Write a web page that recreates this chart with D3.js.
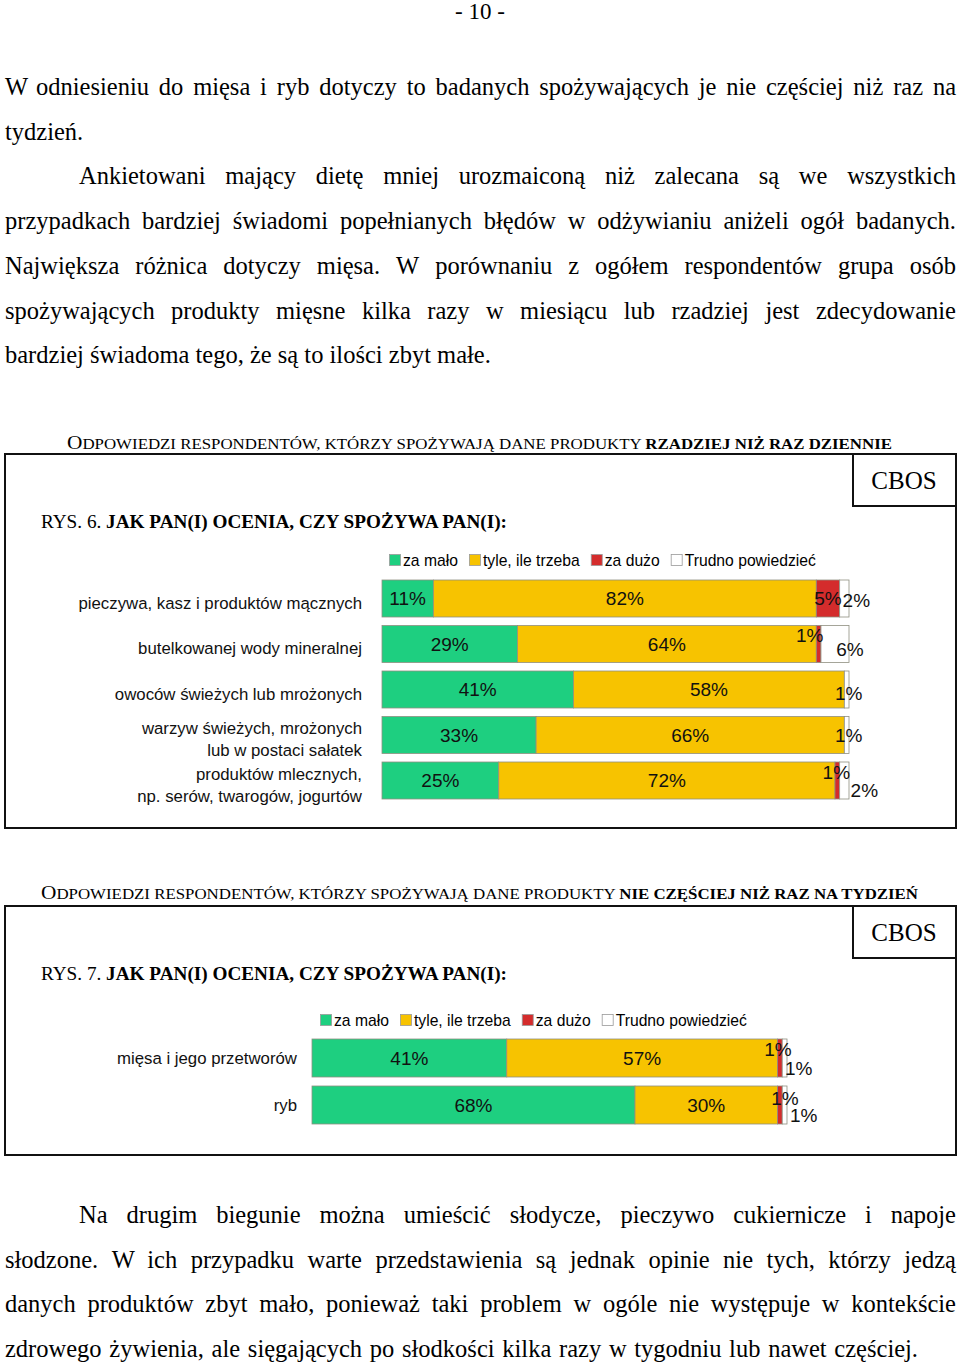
<!DOCTYPE html>
<html>
<head>
<meta charset="utf-8">
<script src="https://cdn.jsdelivr.net/npm/d3@7"></script>
<style>
  body { margin: 0; background: #fff; }
  svg { display: block; }
</style>
</head>
<body>
<script>
// ---- data ----
const seriesNames = ["za mało", "tyle, ile trzeba", "za dużo", "Trudno powiedzieć"];
const seriesColors = ["#1ecf80", "#f7c300", "#d42c2c", "#ffffff"];

const categories6 = [
  ["pieczywa, kasz i produktów mącznych"],
  ["butelkowanej wody mineralnej"],
  ["owoców świeżych lub mrożonych"],
  ["warzyw świeżych, mrożonych", "lub w postaci sałatek"],
  ["produktów mlecznych,", "np. serów, twarogów, jogurtów"]
];
const zaMalo6 = [11, 29, 41, 33, 25];
const tyle6 = [82, 64, 58, 66, 72];
const zaDuzo6 = [5, 1, 0, 0, 1];
const trudno6 = [2, 6, 1, 1, 2];

const categories7 = [["mięsa i jego przetworów"], ["ryb"]];
const zaMalo7 = [41, 68];
const tyle7 = [57, 30];
const zaDuzo7 = [1, 1];
const trudno7 = [1, 1];

const pageNumber = "- 10 -";
const textTop = [
  "W odniesieniu do mięsa i ryb dotyczy to badanych spożywających je nie częściej niż raz na",
  "tydzień.",
  "Ankietowani mający dietę mniej urozmaiconą niż zalecana są we wszystkich",
  "przypadkach bardziej świadomi popełnianych błędów w odżywianiu aniżeli ogół badanych.",
  "Największa różnica dotyczy mięsa. W porównaniu z ogółem respondentów grupa osób",
  "spożywających produkty mięsne kilka razy w miesiącu lub rzadziej jest zdecydowanie",
  "bardziej świadoma tego, że są to ilości zbyt małe."
];
const textBottom = [
  "Na drugim biegunie można umieścić słodycze, pieczywo cukiernicze i napoje",
  "słodzone. W ich przypadku warte przedstawienia są jednak opinie nie tych, którzy jedzą",
  "danych produktów zbyt mało, ponieważ taki problem w ogóle nie występuje w kontekście",
  "zdrowego żywienia, ale sięgających po słodkości kilka razy w tygodniu lub nawet częściej."
];

// ---- page ----
const W = 960, H = 1363;
const serif = "'Liberation Serif', 'Times New Roman', serif";
const sans = "'Liberation Sans', Arial, sans-serif";
const bodySize = 24.5;

const svg = d3.select("body").append("svg")
  .attr("width", W).attr("height", H);

svg.append("text")
  .attr("x", 480).attr("y", 19)
  .attr("text-anchor", "middle")
  .attr("font-family", serif).attr("font-size", 23)
  .text(pageNumber);

// paragraph lines, justified by spreading word gaps: [x start, x end or null]
function paragraph(lines, baseline0, lineGap, layout) {
  lines.forEach(function (line, i) {
    const l = layout[i];
    const yy = baseline0 + i * lineGap;
    const t = svg.append("text")
      .attr("y", yy)
      .attr("font-family", serif).attr("font-size", bodySize);
    const words = line.split(" ");
    const spans = words.map(function (w) { return t.append("tspan").text(w); });
    const widths = spans.map(function (s) { return s.node().getComputedTextLength(); });
    let gap;
    if (l[1] === null || words.length < 2) {
      gap = bodySize * 0.25;
    } else {
      gap = (l[1] - l[0] - d3.sum(widths)) / (words.length - 1);
    }
    let cx = l[0];
    spans.forEach(function (s, k) {
      s.attr("x", cx);
      cx += widths[k] + gap;
    });
  });
}
paragraph(textTop, 95, 44.7,
  [[5, 956], [5, null], [79, 956], [5, 956], [5, 956], [5, 956], [5, null]]);
paragraph(textBottom, 1223, 44.7,
  [[79, 956], [5, 956], [5, 956], [5, 918]]);

// ---- chart drawing ----
function drawChart(opt) {
  // heading above frame
  const head = svg.append("text")
    .attr("x", opt.headX).attr("y", opt.headY)
    .attr("font-family", serif)
    .attr("textLength", opt.headW).attr("lengthAdjust", "spacingAndGlyphs");
  head.append("tspan").attr("font-size", 19).text("O");
  head.append("tspan").attr("font-size", 15).text(opt.headPlain);
  head.append("tspan").attr("font-size", 15).attr("font-weight", "bold").text(opt.headBold);

  // frame
  svg.append("rect")
    .attr("x", 5).attr("y", opt.boxTop)
    .attr("width", 951).attr("height", opt.boxBottom - opt.boxTop)
    .attr("fill", "none").attr("stroke", "#111").attr("stroke-width", 2);
  svg.append("path")
    .attr("d", "M853," + opt.boxTop + "V" + (opt.boxTop + 52) + "H956")
    .attr("fill", "none").attr("stroke", "#111").attr("stroke-width", 2);
  svg.append("text")
    .attr("x", 904).attr("y", opt.boxTop + 35)
    .attr("text-anchor", "middle")
    .attr("font-family", serif).attr("font-size", 25)
    .text("CBOS");

  // figure title
  const title = svg.append("text")
    .attr("x", 41).attr("y", opt.boxTop + 74)
    .attr("font-family", serif).attr("font-size", 18)
    .attr("textLength", 466).attr("lengthAdjust", "spacingAndGlyphs");
  title.append("tspan").text(opt.rys + " ");
  title.append("tspan").attr("font-weight", "bold").text("JAK PAN(I) OCENIA, CZY SPOŻYWA PAN(I):");

  // legend
  let lx = opt.legendX;
  seriesNames.forEach(function (name, i) {
    svg.append("rect")
      .attr("x", lx + 0.5).attr("y", opt.legendY - 11.5)
      .attr("width", 11).attr("height", 11)
      .attr("fill", seriesColors[i]).attr("stroke", "#999").attr("stroke-width", 0.8);
    const t = svg.append("text")
      .attr("x", lx + 14).attr("y", opt.legendY)
      .attr("font-family", sans).attr("font-size", 15.7)
      .text(name);
    lx += 14 + t.node().getComputedTextLength() + 11;
  });

  // scales
  const n = opt.categories.length;
  const x = d3.scaleLinear().domain([0, 100]).range([opt.x0, opt.x1]);
  const pad = (opt.step - opt.barH) / opt.step;
  const y = d3.scaleBand()
    .domain(d3.range(n))
    .range([opt.y0 - pad / 2 * opt.step, opt.y0 - pad / 2 * opt.step + n * opt.step])
    .paddingInner(pad).paddingOuter(pad / 2);

  const rows = d3.range(n).map(function (i) {
    return { i: i, values: opt.series.map(function (s) { return s[i]; }) };
  });
  const stack = d3.stack().keys([0, 1, 2, 3]).value(function (d, k) { return d.values[k]; });
  const layers = stack(rows);

  const g = svg.append("g");
  layers.forEach(function (layer, k) {
    g.selectAll(null)
      .data(layer.filter(function (d) { return d[1] > d[0]; }))
      .join("rect")
      .attr("x", function (d) { return x(d[0]); })
      .attr("y", function (d) { return y(d.data.i); })
      .attr("width", function (d) { return x(d[1]) - x(d[0]); })
      .attr("height", y.bandwidth())
      .attr("fill", seriesColors[k])
      .attr("stroke", "#8f8f80").attr("stroke-width", 0.8);
  });

  // value labels
  layers.forEach(function (layer, k) {
    layer.forEach(function (d) {
      const v = d[1] - d[0];
      if (v <= 0) return;
      const nudge = (opt.nudges[d.data.i] && opt.nudges[d.data.i][k]) || [0, 0];
      g.append("text")
        .attr("x", (x(d[0]) + x(d[1])) / 2 + nudge[0])
        .attr("y", y(d.data.i) + y.bandwidth() / 2 + nudge[1])
        .attr("dy", "0.36em")
        .attr("text-anchor", "middle")
        .attr("font-family", sans).attr("font-size", 19)
        .attr("fill", "#111")
        .text(v + "%");
    });
  });

  // category labels
  opt.categories.forEach(function (lines, i) {
    const cy = y(i) + y.bandwidth() / 2 + opt.catDy;
    lines.forEach(function (line, j) {
      svg.append("text")
        .attr("x", opt.x0 - opt.catGap)
        .attr("y", cy + (j - (lines.length - 1) / 2) * 22)
        .attr("dy", "0.36em")
        .attr("text-anchor", "end")
        .attr("font-family", sans).attr("font-size", 16.8)
        .attr("fill", "#111")
        .text(line);
    });
  });
}

drawChart({
  headX: 67, headY: 449, headW: 825,
  headPlain: "DPOWIEDZI RESPONDENTÓW, KTÓRZY SPOŻYWAJĄ DANE PRODUKTY ",
  headBold: "RZADZIEJ NIŻ RAZ DZIENNIE",
  boxTop: 454, boxBottom: 828,
  rys: "RYS. 6.",
  legendX: 389, legendY: 566,
  x0: 382, x1: 849, y0: 580, step: 45.5, barH: 37, catDy: 4, catGap: 20,
  categories: categories6,
  series: [zaMalo6, tyle6, zaDuzo6, trudno6],
  nudges: {
    0: { 3: [12, 2] },
    1: { 2: [-9, -9], 3: [15, 5] },
    2: { 3: [2, 4] },
    3: { 3: [2, 0] },
    4: { 2: [-1, -8], 3: [20, 10] }
  }
});

drawChart({
  headX: 41, headY: 899, headW: 877,
  headPlain: "DPOWIEDZI RESPONDENTÓW, KTÓRZY SPOŻYWAJĄ DANE PRODUKTY ",
  headBold: "NIE CZĘŚCIEJ NIŻ RAZ NA TYDZIEŃ",
  boxTop: 906, boxBottom: 1155,
  rys: "RYS. 7.",
  legendX: 320, legendY: 1026,
  x0: 312, x1: 787, y0: 1039, step: 47, barH: 38, catDy: 0, catGap: 15,
  categories: categories7,
  series: [zaMalo7, tyle7, zaDuzo7, trudno7],
  nudges: {
    0: { 2: [-2, -9], 3: [14, 10] },
    1: { 2: [5, -7], 3: [19, 10] }
  }
});
</script>
</body>
</html>
